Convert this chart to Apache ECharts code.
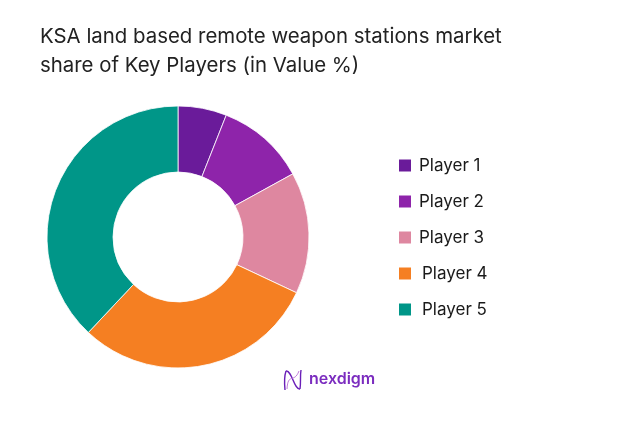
<!DOCTYPE html>
<html>
<head>
<meta charset="utf-8">
<script src="https://cdn.jsdelivr.net/npm/echarts@6/dist/echarts.min.js"></script>
<style>
  html, body { margin: 0; padding: 0; background: #fff; }
  #chart { width: 624px; height: 428px; }
</style>
</head>
<body>
<div id="chart"></div>
<script>
// data
const players = ['Player 1', 'Player 2', 'Player 3', 'Player 4', 'Player 5'];
const shares = [6, 11, 15, 30, 38];
const colors = ['#6a1b9a', '#8e24aa', '#de87a0', '#f57f22', '#009688'];

const titleText = 'KSA land based remote weapon stations market\nshare of Key Players (in Value %)';

let chart = echarts.init(document.getElementById('chart'));

let pieData = players.map((name, i) => ({
  name: name,
  value: shares[i],
  itemStyle: { color: colors[i] }
}));

// Player 4 / 5 labels sit a little further right in the picture
let legendData = players.map((name, i) => ({
  name: name,
  textStyle: { padding: [0, 0, 0, i >= 3 ? 5 : 2] }
}));

// logo lines
let darkLine = { stroke: '#6a1fb8', fill: null, lineWidth: 1.4 };
let lightLine = { stroke: '#c07ad8', fill: null, lineWidth: 1 };

let options = {
  animation: false,
  textStyle: { fontFamily: 'Inter, sans-serif' },
  title: {
    text: titleText,
    left: 40,
    top: 22,
    padding: 0,
    textStyle: {
      color: '#222',
      fontSize: 20.4,
      fontWeight: 'normal',
      lineHeight: 29,
      fontFamily: 'Inter, sans-serif'
    }
  },
  legend: {
    orient: 'vertical',
    left: 397,
    top: 157,
    padding: 0,
    icon: 'rect',
    itemWidth: 14,
    itemHeight: 14,
    itemGap: 19,
    textStyle: { color: '#1a1a1a', fontSize: 17 },
    data: legendData
  },
  series: [
    {
      type: 'pie',
      radius: [65, 131],
      center: [178, 237],
      startAngle: 90,
      clockwise: true,
      label: { show: false },
      labelLine: { show: false },
      itemStyle: { borderColor: '#fff', borderWidth: 0.8 },
      emphasis: { disabled: true },
      data: pieData
    }
  ],
  graphic: [
    {
      type: 'bezierCurve',
      shape: { x1: 285, y1: 390, cpx1: 284, cpy1: 380, cpx2: 285, cpy2: 374, x2: 286, y2: 371 },
      style: darkLine
    },
    {
      type: 'bezierCurve',
      shape: { x1: 286, y1: 371, cpx1: 292, cpy1: 370, cpx2: 294, cpy2: 390, x2: 300, y2: 389 },
      style: darkLine
    },
    {
      type: 'bezierCurve',
      shape: { x1: 300, y1: 389, cpx1: 301, cpy1: 382, cpx2: 300, cpy2: 376, x2: 301, y2: 370 },
      style: darkLine
    },
    {
      type: 'bezierCurve',
      shape: { x1: 287, y1: 389, cpx1: 288, cpy1: 372, cpx2: 294, cpy2: 384, x2: 299, y2: 371 },
      style: lightLine
    },
    {
      type: 'text',
      left: 309,
      top: 371,
      style: {
        text: 'nexdigm',
        fill: '#7b2cbf',
        font: '600 16px Inter, sans-serif'
      }
    }
  ]
};

chart.setOption(options);
window.onresize = () => {
  chart.resize();
};
</script>
</body>
</html>
